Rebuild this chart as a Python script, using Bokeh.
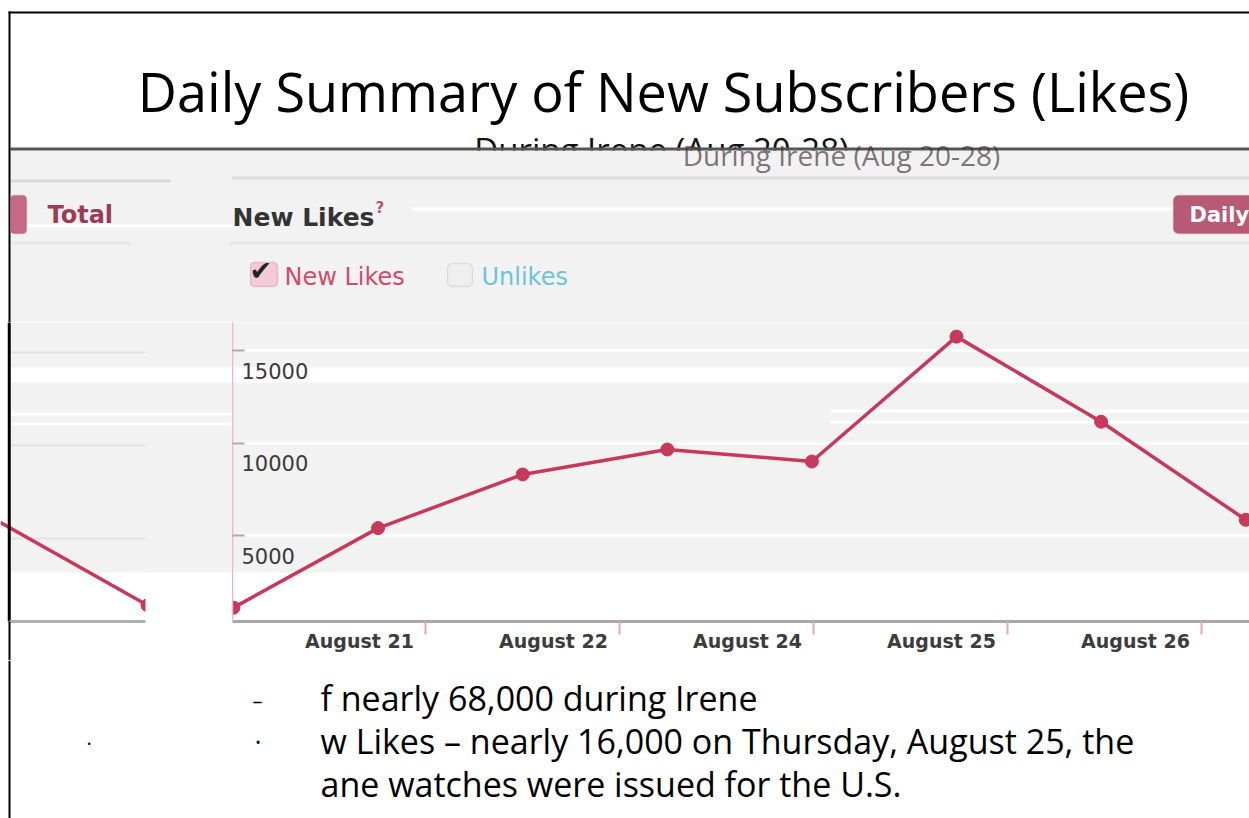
from bokeh.plotting import figure
from bokeh.layouts import column, row
from bokeh.models import (Range1d, LinearAxis, FixedTicker, Label, BoxAnnotation,
                          ColumnDataSource, Grid, CustomLabelingPolicy)
from bokeh.embed import file_html
from bokeh.resources import INLINE
from bokeh.core.properties import value

# ---------------- data ----------------
days = [20, 21, 22, 23, 24, 25, 26, 27]
new_likes = [1100, 5400, 8300, 9650, 9000, 15750, 11150, 5850]
y_ticks = [5000, 10000, 15000]
x_tick_labels = ["August 21", "August 22", "August 24", "August 25", "August 26"]
total_fragment = [5700, 1230]          # tail of the "Total" chart cut off on the left

title_text = "Daily Summary of New Subscribers (Likes)"
subtitle_text = "During Irene (Aug 20-28)"
bullet_lines = ["f nearly 68,000 during Irene",
                "w Likes \u2013 nearly 16,000 on Thursday, August 25, the",
                "ane watches were issued for the U.S."]

# ---------------- layout geometry (page pixels) ----------------
W, H = 1249, 818
TOP_H, MID_B = 322, 660            # top strip height, bottom of middle strip
FL, FR, FT, FB = 232, 1249, 322, 621
PX_PER_DAY = 144.6
X0 = days[0] - (233 - FL) / PX_PER_DAY
X1 = X0 + (FR - FL) / PX_PER_DAY
PX_PER_UNIT = 0.0185
ZERO_PY = 627.5
Y0 = (ZERO_PY - FB) / PX_PER_UNIT
Y1 = (ZERO_PY - FT) / PX_PER_UNIT
LAB_PX0, LAB_STEP = 359, 194.0
LAB0 = (FL - LAB_PX0) / LAB_STEP
LAB1 = (FR - LAB_PX0) / LAB_STEP
FRAG_PX = [0, 147]

RED = "#c8385b"
PANEL = "#f2f2f2"


def no_labels():
    return CustomLabelingPolicy(code="return new Set()")


def DX(px):
    return X0 + (px - FL) / PX_PER_DAY


def DY(py):
    return (ZERO_PY - py) / PX_PER_UNIT


def ident(v):
    return v


def page_fig(w, h, xr, yr, **kw):
    opts = dict(min_border=0)
    opts.update(kw)
    return figure(width=w, height=h, x_range=xr, y_range=yr, output_backend="svg",
                  toolbar_location=None, x_axis_type=None, y_axis_type=None,
                  background_fill_color="white",
                  border_fill_color="white", outline_line_color=None, **opts)


def box(f, fx, fy, l, t, r, b, fill, line=None, lw=1, radius=0, level="image", alpha=1.0):
    f.add_layout(BoxAnnotation(left=fx(l) if l is not None else None,
                               right=fx(r) if r is not None else None,
                               top=fy(t) if t is not None else None,
                               bottom=fy(b) if b is not None else None,
                               fill_color=fill, fill_alpha=alpha, line_color=line,
                               line_width=lw, border_radius=radius, level=level))


def lab(f, fx, fy, text, px, py, size, color="#000000", font="Open Sans", style="normal",
        align="left", baseline="middle", level="annotation", alpha=1.0):
    f.add_layout(Label(x=fx(px), y=fy(py), text=text, text_font=font,
                       text_font_size=f"{size}px", text_font_style=style,
                       text_color=color, text_align=align, text_baseline=baseline,
                       text_alpha=alpha, level=level))


# ======================= top strip =======================
top = page_fig(W, TOP_H, Range1d(0, W), Range1d(TOP_H, 0))
T = (top, ident, ident)
lab(*T, title_text, 663, 90, 54, "#000000", align="center", level="image")
lab(*T, subtitle_text, 661, 149, 33, "#111111", align="center", level="image")
box(*T, 10, 150, W, TOP_H, PANEL)
box(*T, 10, 147, W, 150, "#555555")
lab(*T, subtitle_text, 841, 154, 28, "#3a2a30", align="center", alpha=0.65)
box(*T, 10, 179, 170, 182, "#dadada")
box(*T, 231, 176, W, 179, "#dcdcdc")
box(*T, 411, 207, W, 210, "white")
box(*T, 10, 224, 233, 227, "white")
box(*T, 10, 241, 130, 244, "#e6e6e6")
box(*T, 229, 241, W, 244, "#e6e6e6")
box(*T, 8, 11, W, 13, "#000000", level="annotation")
box(*T, 8, 11, 10, TOP_H, "#000000", level="annotation")

box(*T, 10, 195, 26, 233, "#c46a83", line="#a44a62", lw=1.5, radius=4, level="annotation")
lab(*T, "Total", 47, 214, 24, "#9b3b56", font="DejaVu Sans", style="bold")
lab(*T, "New Likes", 232, 217, 25, "#333333", font="DejaVu Sans", style="bold")
lab(*T, "?", 375, 207, 15, "#c0506a", font="DejaVu Sans", style="bold")
box(*T, 250, 262, 277, 286, "#f6c9d6", line="#c76a85", lw=1.5, radius=4, level="annotation")
lab(*T, "\u2714", 249, 270, 27, "#222222", font="DejaVu Sans")
lab(*T, "New Likes", 284, 276, 24, "#d24a6c", font="DejaVu Sans")
box(*T, 447, 263, 472, 286, "#efefef", line="#b0b0b0", lw=1.5, radius=5, level="annotation")
lab(*T, "Unlikes", 481, 276, 24, "#6cc3da", font="DejaVu Sans")
box(*T, 1173, 195, 1262, 233, "#b95a74", line="#9c4560", lw=1.5, radius=5, level="annotation")
lab(*T, "Daily", 1189, 214, 21, "white", font="DejaVu Sans", style="bold")

# ======================= left fragment =======================
left = page_fig(FL, MID_B - TOP_H, Range1d(0, FL), Range1d(Y0, Y1),
                min_border_left=0, min_border_right=0, min_border_top=0,
                min_border_bottom=MID_B - FB)
L = (left, ident, DY)
box(*L, 10, None, FL, 572, PANEL)
box(*L, 10, 351, 145, 353, "#e4e4e4")
box(*L, 10, 367, FL, 382, "white")
box(*L, 10, 412, FL, 415, "white")
box(*L, 10, 422, FL, 425, "white")
box(*L, 10, 444, 145, 446, "#e4e4e4")
box(*L, 10, 537, 145, 539, "#e4e4e4")
left.line(x=FRAG_PX, y=total_fragment, line_color=RED, line_width=3.5)
left.scatter(x=FRAG_PX[-1:], y=total_fragment[-1:], size=13, fill_color=RED, line_color=RED)
left.quad(left=[145], right=[FL], top=[DY(572)], bottom=[Y0],
          fill_color="white", line_color=None)
left.quad(left=[7.5], right=[10], top=[Y1], bottom=[Y0], fill_color="#000000",
          line_color="#000000", line_width=0.5)
# the fragment's own x axis line; its single tick continues the slide border downwards
left.add_layout(LinearAxis(ticker=FixedTicker(ticks=[9]), bounds=(9, 145),
                           axis_line_color="#b0b0b0", axis_line_width=3,
                           major_tick_in=0, major_tick_out=MID_B - FB,
                           major_tick_line_color="#000000", major_tick_line_width=2,
                           minor_tick_line_color=None, major_label_policy=no_labels(),
                           major_label_text_font_size="0px", major_label_standoff=0),
                "below")

# ======================= main chart =======================
p = figure(width=W - FL, height=MID_B - TOP_H, x_range=Range1d(X0, X1),
           y_range=Range1d(Y0, Y1), output_backend="svg", toolbar_location=None,
           x_axis_type=None, y_axis_type=None,
           min_border_left=0, min_border_right=0, min_border_top=0,
           min_border_bottom=MID_B - FB,
           background_fill_color=PANEL, border_fill_color="white",
           outline_line_color=None)
p.add_layout(BoxAnnotation(top=DY(572), fill_color="white", fill_alpha=1, line_color=None, level="image"))
p.add_layout(BoxAnnotation(top=DY(367), bottom=DY(382), fill_color="white", fill_alpha=1, line_color=None, level="image"))
p.add_layout(BoxAnnotation(left=DX(830), top=DY(409), bottom=DY(412), fill_color="white", fill_alpha=1, line_color=None, level="image"))
p.add_layout(BoxAnnotation(left=DX(830), top=DY(420), bottom=DY(423), fill_color="white", fill_alpha=1, line_color=None, level="image"))

p.add_layout(Grid(dimension=1, ticker=FixedTicker(ticks=y_ticks),
                  grid_line_color="white", grid_line_width=2.5))

yax = LinearAxis(ticker=FixedTicker(ticks=y_ticks), major_tick_in=12, major_tick_out=0,
                 major_tick_line_color="#a8a8a8", major_tick_line_width=2,
                 minor_tick_line_color=None, axis_line_color="#f0b4c2",
                 axis_line_width=1.5, major_label_policy=no_labels(),
                 major_label_text_font_size="0px", major_label_standoff=0)
p.add_layout(yax, "left")

p.extra_x_ranges = {"lab": Range1d(LAB0, LAB1)}
xt = LinearAxis(x_range_name="lab",
                ticker=FixedTicker(ticks=[k + 0.34 for k in range(len(x_tick_labels))]),
                major_tick_out=13, major_tick_in=0, major_tick_line_color="#eca3b4",
                major_tick_line_width=2, minor_tick_line_color=None,
                axis_line_color="#a8a8a8", axis_line_width=3,
                major_label_policy=no_labels(),
                major_label_text_font_size="0px", major_label_standoff=0)
p.add_layout(xt, "below")
xl = LinearAxis(x_range_name="lab", ticker=FixedTicker(ticks=list(range(len(x_tick_labels)))),
                major_label_overrides={k: t for k, t in enumerate(x_tick_labels)},
                axis_line_color=None, major_tick_line_color=None, minor_tick_line_color=None,
                major_tick_out=0, major_tick_in=0, major_label_standoff=-5,
                major_label_text_font="DejaVu Sans", major_label_text_font_style="bold",
                major_label_text_font_size="19px", major_label_text_color="#3c3c3c")
p.add_layout(xl, "below")

p.text(x=[X0] * len(y_ticks), y=y_ticks, text=[str(t) for t in y_ticks],
       x_offset=9, y_offset=20, text_baseline="middle", text_align="left",
       text_font=value("DejaVu Sans"), text_font_size="21px", text_color="#3a3a3a")

src = ColumnDataSource(dict(day=days, likes=new_likes))
p.line("day", "likes", source=src, line_color=RED, line_width=3.5)
p.scatter("day", "likes", source=src, size=13, fill_color=RED, line_color=RED)

# ======================= bottom strip =======================
bot = page_fig(W, H - MID_B, Range1d(0, W), Range1d(H, MID_B))
B = (bot, ident, ident)
for i, line in enumerate(bullet_lines):
    lab(*B, line, 320, 697 + 43 * i, 34, "#000000")
lab(*B, "\u2013", 252, 700, 20, "#000000")
lab(*B, "\u2022", 255, 742, 14, "#000000")
lab(*B, "\u00b7", 86, 743, 20, "#000000")
box(*B, 8, MID_B, 10, H, "#000000", level="annotation")

layout = column(top, row(left, p, spacing=0), bot, spacing=0)
open("out.html", "w").write(file_html(layout, INLINE))
